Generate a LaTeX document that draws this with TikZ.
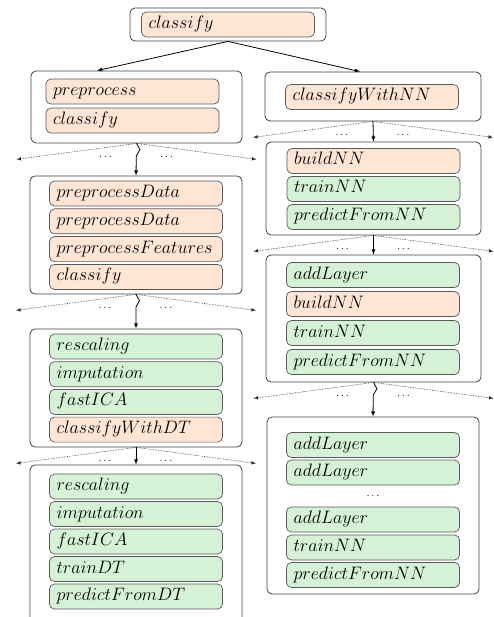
\RequirePackage{fix-cm}
\documentclass[tikz,border=0pt]{standalone}
\usepackage{tikz}
\usetikzlibrary{calc,decorations.pathmorphing}

\definecolor{userfill}{RGB}{255,229,212}
\definecolor{basefill}{RGB}{214,242,214}

\tikzset{
  frame/.style={draw=black!75,rounded corners=5pt,line width=0.8pt,inner sep=0pt},
  call/.style={draw=black!65,rounded corners=5pt,line width=0.7pt,
    minimum height=25pt,text width=159pt,inner xsep=7pt,inner ysep=0pt,
    text height=12.5pt,text depth=4.5pt,align=left,
    font=\fontsize{18}{21}\selectfont},
  userfun/.style={call,fill=userfill},
  basefun/.style={call,fill=basefill},
  gap/.style={inner sep=0pt,font=\fontsize{11}{13}\selectfont},
  fanarrow/.style={-latex,densely dotted,black!85,line width=0.6pt},
  straight/.style={-latex,line width=0.8pt},
  wavy/.style={-latex,line width=0.8pt,decorate,
    decoration={snake,amplitude=3.5pt,segment length=20pt,post length=12pt}}
}

% branches out of a frame: two dotted fan arrows, two gaps and the taken step
\newcommand{\fanout}[4]{%
  \coordinate (#4-l) at ($(#1)+(-120,16)$);
  \coordinate (#4-r) at ($(#1)+(120,16)$);
  \draw[fanarrow] (#1) -- (#4-l);
  \draw[fanarrow] (#1) -- (#4-r);
  \node[gap] (#4-dl) at ($(#1)+(-31,14)$) {$\ldots$};
  \node[gap] (#4-dr) at ($(#1)+(30,14)$) {$\ldots$};
  \draw[#3] (#1) -- (#2);}

\begin{document}
\begin{tikzpicture}[x=1pt,y=-1pt]
\useasboundingbox (0,0) rectangle (493,617);

% frames
\node[frame,minimum width=196pt,minimum height=33pt] (top) at (228,24.5) {};
\node[frame,minimum width=211pt,minimum height=72pt] (pre) at (136.5,107) {};
\node[frame,minimum width=216pt,minimum height=49pt] (nn) at (373,96.5) {};
\node[frame,minimum width=212pt,minimum height=118pt] (data) at (136,235) {};
\node[frame,minimum width=215pt,minimum height=93pt] (build) at (373.5,188.5) {};
\node[frame,minimum width=212pt,minimum height=118pt] (scale) at (136,388) {};
\node[frame,minimum width=215pt,minimum height=127pt] (layer) at (373.5,318.5) {};
\node[frame,minimum width=212pt,minimum height=157pt] (tree) at (136,543.5) {};
\node[frame,minimum width=212pt,minimum height=177pt] (deep) at (373,505.5) {};

% calls inside the frames
\node[userfun] (top1) at (228,24.5) {$classify$};

\node[userfun] (pre1) at (132.5,91.5) {$preprocess$};
\node[userfun] (pre2) at (132.5,120.5) {$classify$};

\node[userfun] (nn1) at (372,97) {$classifyWithNN$};

\foreach \f/\s [count=\i] in {preprocessData/userfun,preprocessData/userfun,
    preprocessFeatures/userfun,classify/userfun}
  \node[\s] (data\i) at (136,{193.5+27.8*(\i-1)}) {$\f$};

\foreach \f/\s [count=\i] in {buildNN/userfun,trainNN/basefun,predictFromNN/basefun}
  \node[\s] (build\i) at (373.5,{161+28*(\i-1)}) {$\f$};

\foreach \f/\s [count=\i] in {rescaling/basefun,imputation/basefun,
    fastICA/basefun,classifyWithDT/userfun}
  \node[\s] (scale\i) at (136,{346.5+27.7*(\i-1)}) {$\f$};

\foreach \f/\s [count=\i] in {addLayer/basefun,buildNN/userfun,
    trainNN/basefun,predictFromNN/basefun}
  \node[\s] (layer\i) at (373,{275+29*(\i-1)}) {$\f$};

\foreach \f/\s [count=\i] in {rescaling/basefun,imputation/basefun,
    fastICA/basefun,trainDT/basefun,predictFromDT/basefun}
  \node[\s] (tree\i) at (136,{486.5+27.5*(\i-1)}) {$\f$};

\node[basefun] (deep1) at (373,445) {$addLayer$};
\node[basefun] (deep2) at (373,472.5) {$addLayer$};
\node[gap] (deepdots) at (373,496) {$\ldots$};
\node[basefun] (deep3) at (373,519.5) {$addLayer$};
\node[basefun] (deep4) at (373,547.5) {$trainNN$};
\node[basefun] (deep5) at (373,575) {$predictFromNN$};

% steps between frames
\draw[straight] (top.south) -- ([xshift=-39.5pt]pre.north);
\draw[straight] (top.south) -- ([xshift=-13pt]nn.north);

\fanout{pre.south}{data.north}{wavy}{f1}
\fanout{data.south}{scale.north}{wavy}{f2}
\fanout{scale.south}{tree.north}{straight}{f3}
\fanout{nn.south}{build.north}{straight}{f4}
\fanout{build.south}{layer.north}{straight}{f5}
\fanout{layer.south}{deep.north}{wavy}{f6}
\end{tikzpicture}
\end{document}
